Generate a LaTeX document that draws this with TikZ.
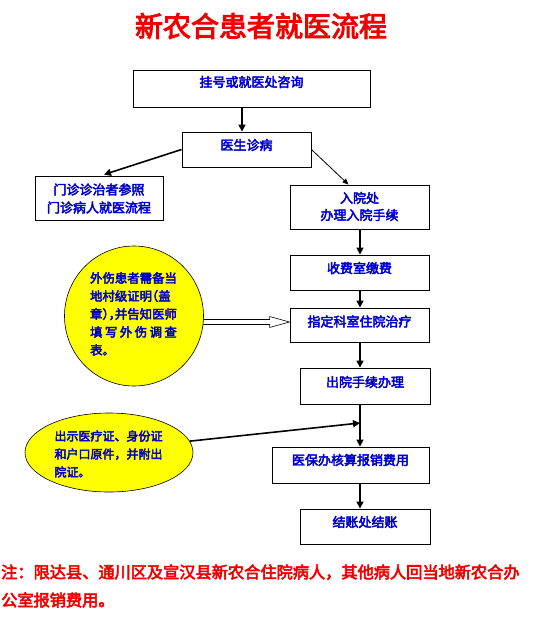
\documentclass[tikz,border=0pt]{standalone}
\usepackage{fontspec}
\newfontfamily\cjk[AutoFakeBold=3.5]{Noto Sans CJK SC}
\usetikzlibrary{arrows.meta,calc,shapes.geometric}
\definecolor{tblue}{RGB}{0,0,204}
\definecolor{tred}{RGB}{240,0,0}
\definecolor{tyellow}{RGB}{255,255,0}
\begin{document}
\begin{tikzpicture}[x=1pt,y=-1pt,
 box/.style={draw=black, line width=0.9pt, rectangle, inner sep=0pt},
 btxt/.style={text=tblue, font=\cjk\bfseries\fontsize{13}{18}\selectfont, align=center, inner sep=0pt},
 etxt/.style={text=tblue, font=\cjk\bfseries\fontsize{12.4}{18}\selectfont, align=left},
 bubble/.style={ellipse, draw=black, line width=0.6pt, fill=tyellow, inner sep=0pt},
 arr/.style={line width=1.6pt, draw=black, -{Triangle[length=7pt,width=7pt]}},
 thinarr/.style={line width=0.8pt, draw=black, -{Triangle[length=6pt,width=5pt]}},
]
\useasboundingbox (0,0) rectangle (537,633);
% title
\node[text=tred, font=\cjk\bfseries\fontsize{28}{30}\selectfont] (title) at (261,26) {新农合患者就医流程};
% boxes
\node[box, minimum width=237pt, minimum height=37pt] (b1) at (251.5,88.5) {};
\node[btxt] (t1) at (251.5,82) {挂号或就医处咨询};
\node[box, minimum width=129pt, minimum height=35pt] (b2) at (246.5,149.5) {};
\node[btxt] (t2) at (246.5,145) {医生诊病};
\node[box, minimum width=128pt, minimum height=44pt] (b3) at (99,198) {};
\node[btxt] (t3) at (99,198.5) {门诊诊治者参照\\门诊病人就医流程};
\node[box, minimum width=139pt, minimum height=44pt] (b4) at (359.5,207) {};
\node[btxt, font=\cjk\bfseries\fontsize{13}{17}\selectfont] (t4) at (359.5,206.5) {入院处\\办理入院手续};
\node[box, minimum width=139pt, minimum height=35pt] (b5) at (359.5,272.5) {};
\node[btxt] (t5) at (359.5,268) {收费室缴费};
\node[box, minimum width=139pt, minimum height=34pt] (b6) at (359.5,325) {};
\node[btxt] (t6) at (359.5,321.5) {指定科室住院治疗};
\node[box, minimum width=130pt, minimum height=36pt] (b7) at (365,386) {};
\node[btxt] (t7) at (365,382) {出院手续办理};
\node[box, minimum width=157pt, minimum height=36pt] (b8) at (350.5,465) {};
\node[btxt] (t8) at (350.5,460) {医保办核算报销费用};
\node[box, minimum width=130pt, minimum height=35pt] (b9) at (365,526.5) {};
\node[btxt] (t9) at (365,522) {结账处结账};
% arrows in main flow
\coordinate (cx) at (242,0);
\coordinate (vx) at (360,0);
\draw[arr] (cx |- b1.south) -- (cx |- b2.north);
\draw[arr] (b2.west) -- ($(b3.north)+(5,-1)$);
\draw[thinarr] (b2.east) -- ($(b4.north)+(-11,0)$);
\draw[arr] (vx |- b4.south) -- (vx |- b5.north);
\draw[arr] (vx |- b5.south) -- (vx |- b6.north);
\draw[arr] (vx |- b6.south) -- (vx |- b7.north);
\draw[arr] (vx |- b7.south) -- (vx |- b8.north);
\draw[arr] (vx |- b8.south) -- (vx |- b9.north);
% hollow block arrow
\coordinate (ha) at ($(b6.west)+(0,-3)$);
\draw[line width=0.6pt, fill=white] (195,0 |- ha) ++(0,-2.5) -- ($(ha)+(-20,-2.5)$) -- ($(ha)+(-20,-5.5)$) -- (ha) -- ($(ha)+(-20,5.5)$) -- ($(ha)+(-20,2.5)$) -- ($(195,0 |- ha)+(0,2.5)$) -- cycle;
% bubbles
\node[bubble, minimum width=139pt, minimum height=140pt] (e1) at (134,316) {};
\node[etxt] (te1) at (133.5,314) {外伤患者需备当\\地村级证明\makebox[0.5em][r]{（}盖\\章\makebox[0.5em][l]{）}\makebox[0.5em][l]{，}并告知医师\\\hbox to 7em{填\hfil 写\hfil 外\hfil 伤\hfil 调\hfil 查}\\表。};
\node[bubble, minimum width=168pt, minimum height=79pt] (e2) at (109,452.5) {};
\node[etxt, font=\cjk\bfseries\fontsize{12}{18}\selectfont] (te2) at (108.5,454) {出示医疗证、身份证\\和户口原件，并附出\\院证。};
\coordinate (m) at (360,423);
\draw[arr] (e2.8) -- (m);
% note
\node[text=tred, font=\cjk\bfseries\fontsize{16.2}{28}\selectfont, align=left, anchor=west, inner sep=0pt] (note) at (1,586) {注：限达县、通川区及宣汉县新农合住院病人，其他病人回当地新农合办\\公室报销费用。};
\end{tikzpicture}
\end{document}
